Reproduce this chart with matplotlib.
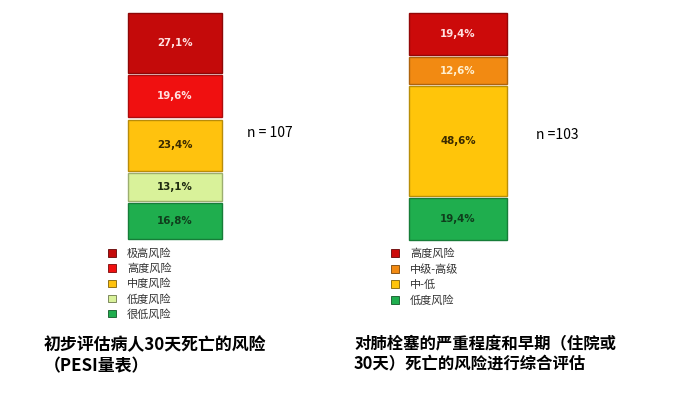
import matplotlib
matplotlib.use("Agg")
import matplotlib.pyplot as plt
import matplotlib.colors as mcolors
from matplotlib.patches import Patch

plt.rcParams['font.family'] = ['Noto Sans CJK SC', 'DejaVu Sans']

# Left panel: PESI
pesi_labels = ["很低风险", "低度风险", "中度风险", "高度风险", "极高风险"]
pesi_values = [16.8, 13.1, 23.4, 19.6, 27.1]
pesi_colors = ["#1fae4e", "#d9f29a", "#ffc20e", "#f01010", "#c40a0a"]
pesi_text = ["#0f3d1c", "#1e2a10", "#3a2a00", "#ffe0e0", "#ffe0e0"]
pesi_n = "n = 107"
pesi_title = "初步评估病人30天死亡的风险\n（PESI量表）"

# Right panel: ESC
esc_labels = ["低度风险", "中-低", "中级-高级", "高度风险"]
esc_values = [19.4, 48.6, 12.6, 19.4]
esc_colors = ["#1fae4e", "#ffc50a", "#f28a12", "#cc0a0a"]
esc_text = ["#0f3d1c", "#3a2a00", "#fff0d0", "#ffe0e0"]
esc_n = "n =103"
esc_title = "对肺栓塞的严重程度和早期（住院或\n30天）死亡的风险进行综合评估"

W, H = 694, 398
fig = plt.figure(figsize=(W / 100, H / 100), dpi=100)


def px_axes(x0, y0, x1, y1):
    return fig.add_axes([x0 / W, 1 - y1 / H, (x1 - x0) / W, (y1 - y0) / H])


def darker(c, f=0.72):
    r, g, b = mcolors.to_rgb(c)
    return (r * f, g * f, b * f)


def stacked(ax, values, colors, tcolors):
    gap = 0.9
    bottom = 0
    for v, c, tc in zip(values, colors, tcolors):
        ax.bar(0, v - gap, bottom=bottom + gap / 2, width=0.99, color=c,
               edgecolor=darker(c), linewidth=1.0, clip_on=False)
        ax.text(0, bottom + v / 2, f"{v:.1f}%".replace(".", ","),
                ha="center", va="center", fontsize=7.4, fontweight="bold",
                color=tc, family="DejaVu Sans")
        bottom += v
    ax.set_xlim(-0.5, 0.5)
    ax.set_ylim(0, 100)
    ax.axis("off")


ax1 = px_axes(128, 12, 222, 240)
stacked(ax1, pesi_values, pesi_colors, pesi_text)
ax2 = px_axes(409, 12, 507, 241)
stacked(ax2, esc_values, esc_colors, esc_text)

fig.text(247 / W, 1 - 133 / H, pesi_n, fontsize=10, va="center")
fig.text(536 / W, 1 - 135 / H, esc_n, fontsize=10, va="center")


def legend(labels, colors, x, y, spacing):
    handles = [Patch(facecolor=c, edgecolor=darker(c, 0.5), linewidth=0.6, label=l)
               for l, c in zip(labels, colors)]
    leg = fig.legend(handles=handles[::-1], loc="upper left",
                     bbox_to_anchor=(x / W, 1 - y / H), frameon=False,
                     fontsize=8, handlelength=0.7, handleheight=0.7,
                     handletextpad=1.0, labelspacing=spacing, borderpad=0,
                     borderaxespad=0)
    for t in leg.get_texts():
        t.set_color("#333333")


legend(pesi_labels, pesi_colors, 108, 248.5, 0.4)
legend(esc_labels, esc_colors, 391, 248.5, 0.45)

fig.text(44 / W, 1 - 356 / H, pesi_title, fontsize=12.2, fontweight="bold",
         va="center", linespacing=1.2)
fig.text(354 / W, 1 - 354 / H, esc_title, fontsize=11.8, fontweight="bold",
         va="center", linespacing=1.15)

fig.savefig("out.png", dpi=100)
